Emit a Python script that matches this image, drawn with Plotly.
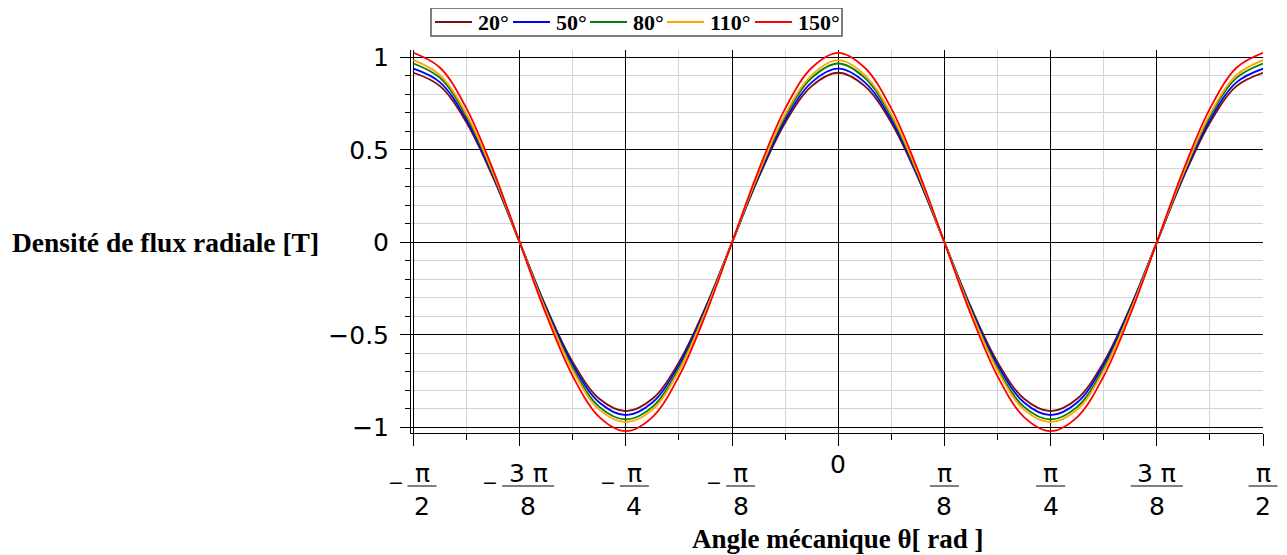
import math
import plotly.graph_objects as go

PI = math.pi

# ---------------- data ----------------
theta = [k * PI / 32 for k in range(-16, 17)]  # sample positions, -pi/2 .. pi/2

series_names = ["20°", "50°", "80°", "110°", "150°"]
series_colors = ["#7b1010", "#0000ff", "#008000", "#ffa500", "#ff0000"]

b_20 = [0.917, 0.845, 0.647, 0.350, 0.0, -0.350, -0.647, -0.845, -0.912, -0.845, -0.647, -0.350, 0.0, 0.350, 0.647, 0.845,
        0.917, 0.845, 0.647, 0.350, 0.0, -0.350, -0.647, -0.845, -0.912, -0.845, -0.647, -0.350, 0.0, 0.350, 0.647, 0.845, 0.917]
b_50 = [0.939, 0.865, 0.662, 0.358, 0.0, -0.358, -0.662, -0.865, -0.933, -0.865, -0.662, -0.358, 0.0, 0.358, 0.662, 0.865,
        0.939, 0.865, 0.662, 0.358, 0.0, -0.358, -0.662, -0.865, -0.933, -0.865, -0.662, -0.358, 0.0, 0.358, 0.662, 0.865, 0.939]
b_80 = [0.967, 0.889, 0.680, 0.368, 0.0, -0.368, -0.680, -0.889, -0.957, -0.889, -0.680, -0.368, 0.0, 0.368, 0.680, 0.889,
        0.967, 0.889, 0.680, 0.368, 0.0, -0.368, -0.680, -0.889, -0.957, -0.889, -0.680, -0.368, 0.0, 0.368, 0.680, 0.889, 0.967]
b_110 = [0.985, 0.904, 0.692, 0.374, 0.0, -0.374, -0.692, -0.904, -0.971, -0.904, -0.692, -0.374, 0.0, 0.374, 0.692, 0.904,
         0.985, 0.904, 0.692, 0.374, 0.0, -0.374, -0.692, -0.904, -0.971, -0.904, -0.692, -0.374, 0.0, 0.374, 0.692, 0.904, 0.985]
b_150 = [1.025, 0.944, 0.723, 0.391, 0.0, -0.391, -0.723, -0.944, -1.020, -0.944, -0.723, -0.391, 0.0, 0.391, 0.723, 0.944,
         1.025, 0.944, 0.723, 0.391, 0.0, -0.391, -0.723, -0.944, -1.020, -0.944, -0.723, -0.391, 0.0, 0.391, 0.723, 0.944, 1.025]
series_values = [b_20, b_50, b_80, b_110, b_150]

x_tick_vals = [-PI / 2, -3 * PI / 8, -PI / 4, -PI / 8, 0, PI / 8, PI / 4, 3 * PI / 8, PI / 2]
x_tick_sign = ["−", "−", "−", "−", "", "", "", "", ""]
x_tick_num = ["π", "3 π", "π", "π", "0", "π", "π", "3 π", "π"]
x_tick_den = ["2", "8", "4", "8", "", "8", "4", "8", "2"]

y_tick_vals = [-1, -0.5, 0, 0.5, 1]
y_tick_text = ["−1", "−0.5", "0", "0.5", "1"]

x_title = "Angle mécanique θ[ rad ]"
y_title = "Densité de flux radiale [T]"

# ---------------- layout geometry (screen pixels; page body has an 8px margin) ----------------
S = 8
W, H = 1287 - S, 555 - S
PLOT_L, PLOT_R, PLOT_T, PLOT_B = 411, 1263, 50, 433  # screen pixel edges of plot area
L, R, T, B = PLOT_L - S, W - (PLOT_R - S), PLOT_T - S, H - (PLOT_B - S)
XMIN, XMAX = -PI / 2 - 0.0093, PI / 2
YMIN, YMAX = -1.03, 1.04
PW, PH = W - L - R, H - T - B

LEGEND_BOX = (431, 842, 8, 36)               # screen px: left, right, top, bottom
LEGEND_LINE_X = [435, 513, 590, 667, 755]    # screen px start of each sample line
LEGEND_LINE_LEN = 37
LEGEND_Y = 22


def py(pix):
    return (PLOT_B - pix) / PH


def pxp(pix):
    return (pix - PLOT_L) / PW


def px_of(val):
    return (val - XMIN) / (XMAX - XMIN)


fig = go.Figure()
for name, color, vals in zip(series_names, series_colors, series_values):
    fig.add_trace(go.Scatter(x=theta, y=vals, mode="lines", name=name, showlegend=False,
                             line=dict(color=color, width=1.8, shape="spline", smoothing=1.0)))

SANS = "DejaVu Sans, Verdana, sans-serif"
SERIF = "Liberation Serif, Times New Roman, serif"
TF = 25

annotations = []
shapes = []
for tv, sg, nu, de in zip(x_tick_vals, x_tick_sign, x_tick_num, x_tick_den):
    if de == "":
        annotations.append(dict(x=tv, xref="x", y=py(464), yref="paper", text=nu, showarrow=False,
                                xanchor="center", yanchor="middle", font=dict(family=SANS, size=TF, color="black")))
        continue
    bw = 52 if len(nu) > 1 else 29
    off = 8.5 if sg else 0.0
    annotations.append(dict(x=tv, xref="x", y=py(473), yref="paper", text=nu, showarrow=False, xshift=off,
                            xanchor="center", yanchor="middle", font=dict(family=SANS, size=TF, color="black")))
    annotations.append(dict(x=tv, xref="x", y=py(506), yref="paper", text=de, showarrow=False, xshift=off,
                            xanchor="center", yanchor="middle", font=dict(family=SANS, size=TF, color="black")))
    shapes.append(dict(type="line", xref="paper", xsizemode="pixel", xanchor=px_of(tv),
                       x0=off - bw / 2, x1=off + bw / 2, yref="paper", y0=py(486), y1=py(486),
                       line=dict(color="black", width=1)))
    if sg:
        annotations.append(dict(x=tv, xref="x", y=py(482), yref="paper", text=sg, showarrow=False,
                                xshift=off - bw / 2 - 12, xanchor="center", yanchor="middle",
                                font=dict(family=SANS, size=19, color="black")))

annotations.append(dict(x=pxp(321), xref="paper", y=0, yref="y", text=y_title, showarrow=False,
                        xanchor="right", yanchor="middle",
                        font=dict(family=SERIF, size=27.5, color="black", weight="bold")))
annotations.append(dict(x=0, xref="x", y=py(539), yref="paper", text=x_title, showarrow=False,
                        xanchor="center", yanchor="middle",
                        font=dict(family=SERIF, size=27, color="black", weight="bold")))

# hand-built legend (box, sample lines, labels)
shapes.append(dict(type="rect", xref="paper", yref="paper",
                   x0=pxp(LEGEND_BOX[0]), x1=pxp(LEGEND_BOX[1]), y0=py(LEGEND_BOX[3]), y1=py(LEGEND_BOX[2]),
                   line=dict(color="#555555", width=1.5), fillcolor="white", layer="above"))
for lx, name, color in zip(LEGEND_LINE_X, series_names, series_colors):
    shapes.append(dict(type="line", xref="paper", yref="paper",
                       x0=pxp(lx), x1=pxp(lx + LEGEND_LINE_LEN), y0=py(LEGEND_Y), y1=py(LEGEND_Y),
                       line=dict(color=color, width=2), layer="above"))
    annotations.append(dict(x=pxp(lx + LEGEND_LINE_LEN + 4), xref="paper", y=py(LEGEND_Y + 1), yref="paper",
                            text=name, showarrow=False, xanchor="left", yanchor="middle",
                            font=dict(family=SERIF, size=22, color="black", weight="bold")))

fig.update_layout(
    width=W, height=H,
    margin=dict(l=L, r=R, t=T, b=B, pad=0),
    paper_bgcolor="white", plot_bgcolor="white",
    showlegend=False,
    annotations=annotations,
    shapes=shapes,
)

fig.update_xaxes(range=[XMIN, XMAX], tickmode="array", tickvals=x_tick_vals, showticklabels=False,
                 ticks="outside", ticklen=12, tickcolor="black", tickwidth=1,
                 showgrid=True, gridcolor="black", gridwidth=1, zeroline=False,
                 showline=True, linecolor="black", linewidth=1,
                 minor=dict(tick0=-PI / 2, dtick=PI / 16, ticks="outside", ticklen=6, tickcolor="black",
                            showgrid=True, gridcolor="#d4d4d4", gridwidth=1))
fig.update_yaxes(range=[YMIN, YMAX], tickmode="array", tickvals=y_tick_vals, ticktext=y_tick_text,
                 ticks="outside", ticklen=10, tickcolor="black", tickwidth=1,
                 tickfont=dict(family=SANS, size=25, color="black"), ticklabelstandoff=6,
                 showgrid=True, gridcolor="black", gridwidth=1, zeroline=False,
                 showline=True, linecolor="black", linewidth=1,
                 minor=dict(tick0=0, dtick=0.1, ticks="outside", ticklen=5, tickcolor="black",
                            showgrid=True, gridcolor="#d4d4d4", gridwidth=1))

fig.write_html("out.html")
